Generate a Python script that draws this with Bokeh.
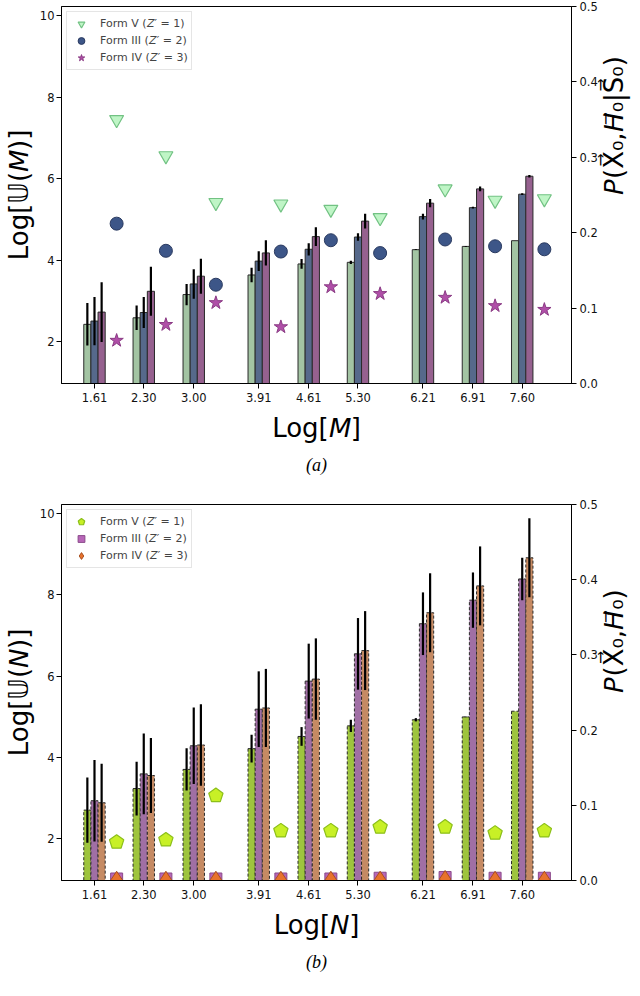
import math
import numpy as np
from bokeh.plotting import figure
from bokeh.models import (Range1d, LinearAxis, FixedTicker, PrintfTickFormatter,
                          Legend, LegendItem, Title)
from bokeh.layouts import column
from bokeh.embed import file_html
from bokeh.resources import INLINE

FONT = "DejaVu Sans"

# ---------------- data ----------------
x_ticks = [1.61, 2.30, 3.00, 3.91, 4.61, 5.30, 6.21, 6.91, 7.60]
left_ticks = [2, 4, 6, 8, 10]
right_ticks = [0.0, 0.1, 0.2, 0.3, 0.4, 0.5]

# panel (a): Log[U(M)] bars (left axis)
a_bar_v = [2.43, 2.59, 3.16, 3.64, 3.91, 3.95, 4.26, 4.34, 4.48]
a_err_v = [0.52, 0.30, 0.26, 0.18, 0.12, 0.04, 0.01, 0.01, 0.00]
a_bar_iii = [2.51, 2.72, 3.42, 3.98, 4.27, 4.57, 5.07, 5.29, 5.62]
a_err_iii = [0.59, 0.38, 0.36, 0.24, 0.15, 0.09, 0.07, 0.02, 0.02]
a_bar_iv = [2.73, 3.24, 3.61, 4.18, 4.58, 4.96, 5.40, 5.75, 6.06]
a_err_iv = [0.73, 0.60, 0.43, 0.31, 0.23, 0.18, 0.10, 0.06, 0.03]
# panel (a): probabilities (right axis)
a_p_v = [0.350, 0.302, 0.240, 0.238, 0.231, 0.220, 0.258, 0.243, 0.245]
a_p_iii = [0.212, 0.176, 0.131, 0.175, 0.190, 0.173, 0.191, 0.182, 0.178]
a_p_iv = [0.057, 0.078, 0.107, 0.075, 0.128, 0.119, 0.114, 0.103, 0.098]

# panel (b): Log[U(N)] bars (left axis)
b_bar_v = [2.71, 3.24, 3.71, 4.22, 4.52, 4.78, 4.93, 5.00, 5.14]
b_err_v = [0.80, 0.66, 0.52, 0.34, 0.23, 0.15, 0.04, 0.01, 0.00]
b_bar_iii = [2.94, 3.60, 4.29, 5.19, 5.88, 6.55, 7.29, 7.87, 8.39]
b_err_iii = [1.00, 0.99, 0.94, 0.93, 0.92, 0.88, 0.77, 0.68, 0.52]
b_bar_iv = [2.89, 3.56, 4.31, 5.22, 5.93, 6.63, 7.56, 8.22, 8.91]
b_err_iv = [0.96, 0.92, 1.00, 0.96, 1.00, 0.97, 0.97, 0.97, 0.97]
# panel (b): probabilities (right axis)
b_p_v = [0.051, 0.054, 0.113, 0.066, 0.066, 0.071, 0.071, 0.063, 0.066]
b_p_iii = [0.002, 0.002, 0.002, 0.002, 0.002, 0.003, 0.004, 0.003, 0.003]
b_p_iv = [0.001, 0.001, 0.001, 0.001, 0.001, 0.001, 0.002, 0.001, 0.001]

labels_forms = ["Form V (\U0001D621\u2032 = 1)", "Form III (\U0001D621\u2032 = 2)",
                "Form IV (\U0001D621\u2032 = 3)"]

BAR_W = 0.1
OFFS = [-0.1, 0.0, 0.1]
MARK_OFF = 0.31


def style_axis(ax):
    ax.axis_line_color = "black"
    ax.major_tick_line_color = "black"
    ax.major_tick_out = 5
    ax.major_tick_in = 0
    ax.minor_tick_line_color = None
    ax.major_label_text_font = FONT
    ax.major_label_text_font_size = "11.5px"
    ax.major_label_text_color = "#111111"
    ax.axis_label_text_font = FONT
    ax.axis_label_text_font_size = "26px"
    ax.axis_label_text_font_style = "normal"
    ax.axis_label_text_color = "black"


def make_fig(top_b, frame_h, bottom_b, xlabel, ylabel, rlabel, caption):
    p = figure(frame_width=510, frame_height=frame_h,
               x_range=Range1d(1.148, 8.29), y_range=Range1d(0.98, 10.22),
               output_backend="svg", toolbar_location=None,
               min_border_left=51, min_border_right=58,
               min_border_top=top_b, min_border_bottom=bottom_b)
    p.extra_y_ranges = {"p": Range1d(0.0, 0.5)}
    p.grid.visible = False
    p.outline_line_color = "black"
    p.outline_line_alpha = 1.0
    p.background_fill_color = "white"
    p.border_fill_color = "white"

    p.xaxis.ticker = FixedTicker(ticks=x_ticks)
    p.xaxis.formatter = PrintfTickFormatter(format="%.2f")
    p.xaxis.axis_label = xlabel
    p.xaxis.major_label_standoff = 4
    p.xaxis.axis_label_standoff = 8

    p.yaxis.ticker = FixedTicker(ticks=left_ticks)
    p.yaxis.axis_label = ylabel
    p.yaxis.major_label_standoff = 2
    p.yaxis.axis_label_standoff = 3

    ra = LinearAxis(y_range_name="p", ticker=FixedTicker(ticks=right_ticks),
                    formatter=PrintfTickFormatter(format="%.1f"), axis_label=rlabel)
    ra.major_label_standoff = 3
    ra.axis_label_standoff = 13
    p.add_layout(ra, "right")
    for ax in p.axis:
        style_axis(ax)
    ra.axis_label_orientation = math.pi / 2

    p.add_layout(Title(text=caption, align="center", text_font="Liberation Serif",
                       text_font_style="italic", text_font_size="18px",
                       text_color="black", standoff=15), "below")
    return p


def add_bars(p, vals_list, errs_list, colors, dash):
    xs = np.array(x_ticks)
    for off, vals, errs, col in zip(OFFS, vals_list, errs_list, colors):
        v = np.array(vals)
        e = np.array(errs)
        p.vbar(x=xs + off, width=BAR_W, bottom=0, top=v, fill_color=col,
               line_color="#2a2a2a", line_width=1, line_dash=dash)
        p.segment(x0=xs + off, y0=v - e, x1=xs + off, y1=v + e,
                  line_color="black", line_width=2.2)


def style_legend(p, items):
    leg = Legend(items=items, location="top_left")
    leg.label_text_font = FONT
    leg.label_text_font_size = "11px"
    leg.glyph_width = 22
    leg.glyph_height = 17
    leg.spacing = 0
    leg.padding = 3
    leg.margin = 5
    leg.label_standoff = 8
    leg.border_line_color = "#cccccc"
    leg.background_fill_alpha = 0.85
    p.add_layout(leg)


xm = np.array(x_ticks) + MARK_OFF

# ---------------- panel (a) ----------------
p1 = make_fig(6, 377, 115, "Log[\U0001D614]", "Log[\U0001D54C(\U0001D614)]",
              "\U0001D617(X\u20D7\u2080,\U0001D60F\u20D7\u2080|S\u20D7\u2080)", "(a)")
add_bars(p1, [a_bar_v, a_bar_iii, a_bar_iv], [a_err_v, a_err_iii, a_err_iv],
         ["#a3c4a3", "#56698b", "#96618f"], "solid")
r1 = p1.scatter(x=xm, y=a_p_v, y_range_name="p", marker="inverted_triangle", size=14,
                fill_color="#bff5c6", line_color="#72c283", line_width=1.2)
r2 = p1.scatter(x=xm, y=a_p_iii, y_range_name="p", marker="circle", size=13,
                fill_color="#3d5688", line_color="#2a3a60", line_width=1)
r3 = p1.scatter(x=xm, y=a_p_iv, y_range_name="p", marker="star", size=14,
                fill_color="#b04fa8", line_color="#8a3a84", line_width=1)
style_legend(p1, [LegendItem(label=labels_forms[0], renderers=[r1]),
                  LegendItem(label=labels_forms[1], renderers=[r2]),
                  LegendItem(label=labels_forms[2], renderers=[r3])])

# ---------------- panel (b) ----------------
p2 = make_fig(6, 376, 100, "Log[\U0001D615]", "Log[\U0001D54C(\U0001D615)]",
              "\U0001D617(X\u20D7\u2080,\U0001D60F\u20D7\u2080)", "(b)")
add_bars(p2, [b_bar_v, b_bar_iii, b_bar_iv], [b_err_v, b_err_iii, b_err_iv],
         ["#9ec43e", "#a06fa4", "#c58a63"], "3 2")
s2 = p2.scatter(x=xm, y=b_p_iii, y_range_name="p", marker="square", size=12,
                fill_color="#b866b8", line_color="#8a4a8a", line_width=1)
s3 = p2.scatter(x=xm, y=b_p_iv, y_range_name="p", marker="diamond", size=17,
                fill_color="#e8722c", line_color="#a85020", line_width=1)
s1 = p2.ngon(x=xm, y=b_p_v, y_range_name="p", radius=7.5, radius_units="screen", n=5,
             fill_color="#c8f026", line_color="#8cbf1a", line_width=1.2)
style_legend(p2, [LegendItem(label=labels_forms[0], renderers=[s1]),
                  LegendItem(label=labels_forms[1], renderers=[s2]),
                  LegendItem(label=labels_forms[2], renderers=[s3])])

layout = column(p1, p2)
open("out.html", "w").write(file_html(layout, INLINE))
